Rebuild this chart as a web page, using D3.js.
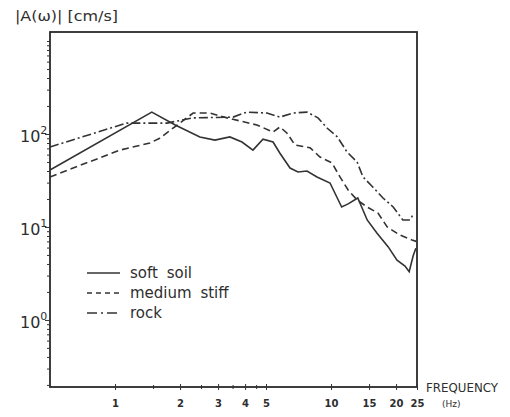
<!DOCTYPE html>
<html>
<head>
<meta charset="utf-8">
<script src="https://cdn.jsdelivr.net/npm/d3@7"></script>
<style>
  body { margin: 0; background: #fff; }
  text { font-family: "DejaVu Sans", sans-serif; fill: #2e2e2e; }
</style>
</head>
<body>
<div id="chart"></div>
<script>
// Set width and height for svg
var svgWidth = 510;
var svgHeight = 417;

// plot box edges (pixels)
var margin = { top: 32, right: 93, bottom: 30, left: 50 };
var width = svgWidth - margin.left - margin.right;
var height = svgHeight - margin.top - margin.bottom;

// data: frequency (Hz) / amplitude (cm/s)
var softFreq = [0.5, 1.48, 1.9, 2.47, 2.9, 3.4, 3.87, 4.35, 4.84, 5.39, 5.8, 6.46, 7.03, 7.74, 8.61, 9.89, 11.2, 12.0, 13.3, 14.7, 16.3, 18.4, 20.2, 22.0, 23.0, 24.0, 24.7];
var softAmp = [41, 172, 125, 93, 86, 93, 82, 67, 88, 82, 62, 43, 39, 40, 34.5, 29.7, 16.4, 17.7, 20.5, 11.9, 8.6, 6.1, 4.4, 3.8, 3.3, 4.9, 5.9];

var mediumFreq = [0.5, 1.05, 1.45, 1.61, 2.3, 2.75, 3.3, 4.54, 5.39, 5.8, 6.26, 6.81, 8.0, 8.89, 10.1, 11.0, 12.0, 13.2, 14.7, 16.5, 18.2, 20.8, 23.7, 24.8];
var mediumAmp = [34.5, 67, 80, 90, 168, 168, 149, 125, 105, 119, 102, 76, 71, 56.6, 48.8, 34.5, 25, 19.5, 16.4, 14.1, 10, 8.2, 7.25, 7.0];

var rockFreq = [0.5, 1.13, 1.74, 2.3, 3.52, 4.08, 5.05, 5.8, 6.67, 7.74, 8.7, 9.58, 10.7, 11.86, 13.2, 14.06, 15.6, 17.4, 19.4, 21.5, 23.2, 24.2];
var rockAmp = [72.5, 131, 131, 149, 152, 172, 168, 152, 168, 172, 149, 116, 93, 64, 50, 34.5, 26.9, 20.5, 16.4, 11.9, 11.9, 14.1];

var seriesNames = ["soft soil", "medium stiff", "rock"];
var seriesDash = ["none", "7,4", "9,3,2,3"];

// tick values
var xTickLabels = [1, 2, 3, 4, 5, 10, 15, 20, 25];
var xMinorTicks = [1.5, 2.5, 3.5, 4.5];
var yMajorTicks = [1, 10, 100];
var yTickExp = ["0", "1", "2"];

var svg = d3
  .select("#chart")
  .append("svg")
  .attr("width", svgWidth)
  .attr("height", svgHeight);

var chartGroup = svg
  .append("g")
  .attr("transform", `translate(${margin.left}, ${margin.top})`);

var xLogScale = d3.scaleLog().domain([0.5, 25]).range([0, width]);
var yLogScale = d3.scaleLog().domain([0.19, 1250]).range([height, 0]);

// y minor ticks 2..9 per decade
var yMinorTicks = [];
[0.1, 1, 10, 100].forEach(function(base) {
  for (var k = 2; k <= 9; k++) {
    var v = base * k;
    if (v >= 0.19 && v <= 1250) yMinorTicks.push(v);
  }
});
yMinorTicks.push(1000);

// frame
chartGroup
  .append("rect")
  .attr("x", 0)
  .attr("y", 0)
  .attr("width", width)
  .attr("height", height)
  .attr("fill", "none")
  .attr("stroke", "#2a2a2a")
  .attr("stroke-width", 1.8);

// x axis
var bottomAxis = d3
  .axisBottom(xLogScale)
  .tickValues(xTickLabels)
  .tickFormat(d3.format("d"))
  .tickSize(3)
  .tickPadding(10);

var xAxis = chartGroup
  .append("g")
  .attr("transform", `translate(0, ${height})`)
  .call(bottomAxis);
xAxis.select(".domain").remove();
xAxis.selectAll("line").attr("y1", -3).attr("stroke", "#333");
xAxis
  .selectAll("text")
  .style("font-size", "10px")
  .style("font-weight", "bold")
  .attr("fill", "#333");

var bottomMinor = d3.axisBottom(xLogScale).tickValues(xMinorTicks).tickFormat("").tickSize(2);
var xMinor = chartGroup
  .append("g")
  .attr("transform", `translate(0, ${height})`)
  .call(bottomMinor);
xMinor.select(".domain").remove();
xMinor.selectAll("line").attr("y1", -2).attr("stroke", "#333");

// y axis
var leftAxis = d3.axisLeft(yLogScale).tickValues(yMajorTicks).tickFormat("").tickSize(5);
var yAxis = chartGroup.append("g").call(leftAxis);
yAxis.select(".domain").remove();
yAxis.selectAll("line").attr("stroke", "#333");

var leftMinor = d3.axisLeft(yLogScale).tickValues(yMinorTicks).tickFormat("").tickSize(3);
var yMinor = chartGroup.append("g").call(leftMinor);
yMinor.select(".domain").remove();
yMinor.selectAll("line").attr("stroke", "#333");

// y tick labels 10^n
yMajorTicks.forEach(function(v, i) {
  var lbl = chartGroup
    .append("text")
    .attr("x", -30)
    .attr("y", yLogScale(v) + 8)
    .attr("font-size", 16);
  lbl.append("tspan").text("10");
  lbl.append("tspan").attr("font-size", 11).attr("dy", -8).text(yTickExp[i]);
});

// curves
var line = d3
  .line()
  .x(d => xLogScale(d[0]))
  .y(d => yLogScale(d[1]));

var series = [
  d3.zip(softFreq, softAmp),
  d3.zip(mediumFreq, mediumAmp),
  d3.zip(rockFreq, rockAmp)
];

series.forEach(function(s, i) {
  chartGroup
    .append("path")
    .datum(s)
    .attr("d", line)
    .attr("fill", "none")
    .attr("stroke", "#333")
    .attr("stroke-width", 1.6)
    .attr("stroke-dasharray", seriesDash[i]);
});

// legend
var legend = svg.append("g").attr("transform", "translate(87, 273)");
seriesNames.forEach(function(name, i) {
  legend
    .append("line")
    .attr("x1", 0)
    .attr("x2", 33)
    .attr("y1", i * 20)
    .attr("y2", i * 20)
    .attr("stroke", "#333")
    .attr("stroke-width", 1.6)
    .attr("stroke-dasharray", seriesDash[i] === "none" ? "none" : (i === 1 ? "5,4" : "10,4,2,4"));
  legend
    .append("text")
    .attr("x", 43)
    .attr("y", i * 20 + 5)
    .attr("font-size", 15)
    .style("word-spacing", "4px")
    .text(name);
});

// axis titles
svg
  .append("text")
  .attr("x", 15)
  .attr("y", 21)
  .attr("font-size", 14)
  .attr("textLength", 103)
  .attr("lengthAdjust", "spacingAndGlyphs")
  .text("|A(ω)|  [cm/s]");

svg
  .append("text")
  .attr("x", 426)
  .attr("y", 392)
  .attr("font-size", 12)
  .attr("textLength", 72)
  .attr("lengthAdjust", "spacingAndGlyphs")
  .text("FREQUENCY");

svg
  .append("text")
  .attr("x", 442)
  .attr("y", 407)
  .attr("font-size", 9)
  .text("(Hz)");
</script>
</body>
</html>
